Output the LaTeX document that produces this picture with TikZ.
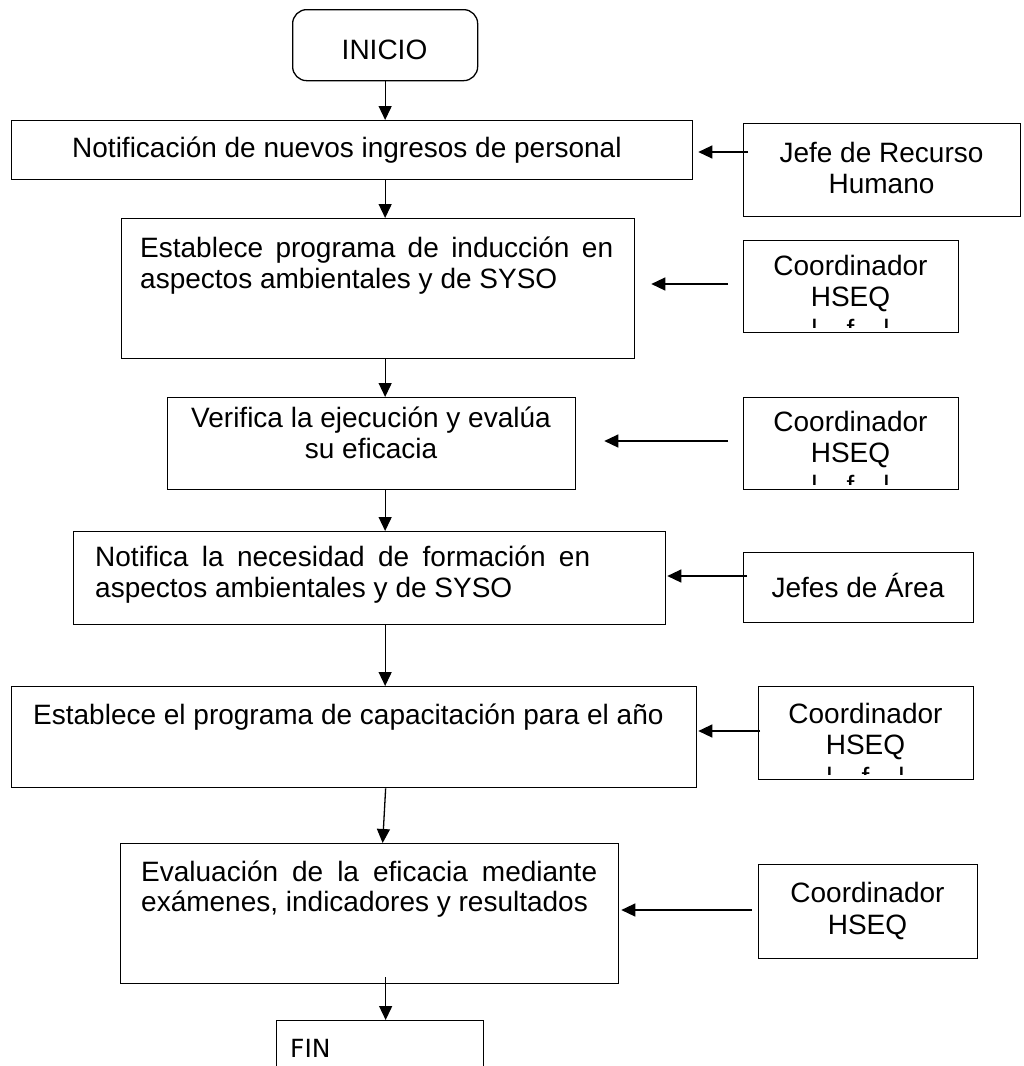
\documentclass[tikz,border=0pt]{standalone}
\usepackage{fontspec}
\setmainfont{Liberation Sans}
\newfontfamily\finfont{DejaVu Sans}
\usetikzlibrary{arrows.meta}

\begin{document}
\begin{tikzpicture}[x=1pt,y=-1pt,
  box/.style={draw, line width=1.3pt, inner sep=0pt, anchor=north west},
  txt/.style={inner sep=0pt, anchor=base west, font=\fontsize{28}{32}\selectfont},
  ctxt/.style={inner sep=0pt, anchor=base, font=\fontsize{28}{32}\selectfont},
  arr/.style={line width=1.3pt, -{Triangle[length=14pt,width=13pt]}}]
\useasboundingbox (0,0) rectangle (1024,1066);
\clip (0,0) rectangle (1024,1066);

% ---- main column boxes
\node[box, rounded corners=14pt, minimum width=185pt, minimum height=71pt] (inicio) at (292,9) {};
\node[box, minimum width=681pt, minimum height=59pt]  (n1) at (11,120) {};
\node[box, minimum width=513pt, minimum height=140pt] (n2) at (121,218) {};
\node[box, minimum width=408pt, minimum height=92pt]  (n3) at (167,397) {};
\node[box, minimum width=592pt, minimum height=93pt]  (n4) at (73,531) {};
\node[box, minimum width=685pt, minimum height=101pt] (n5) at (11,686) {};
\node[box, minimum width=498pt, minimum height=140pt] (n6) at (120,843) {};
\node[box, minimum width=207pt, minimum height=80pt]  (fin) at (276,1020) {};

% ---- responsible boxes
\node[box, minimum width=277pt, minimum height=93pt] (jefe) at (743,123) {};
\node[box, minimum width=215pt, minimum height=92pt] (ca) at (743,240) {};
\node[box, minimum width=215pt, minimum height=92pt] (cb) at (743,397) {};
\node[box, minimum width=230pt, minimum height=70pt] (jefes) at (743,552) {};
\node[box, minimum width=215pt, minimum height=93pt] (cc) at (758,686) {};
\node[box, minimum width=219pt, minimum height=94pt] (cd) at (758,864) {};

% ---- texts of the main column
\node[ctxt] (tinicio) at (384.5,59) {INICIO};
\node[txt] (t1) at (72,157) {Notificación de nuevos ingresos de personal};
\node[txt] (t2a) at (140,257) {\makebox[473pt][s]{Establece programa de inducción en}};
\node[txt] (t2b) at (140,288) {aspectos ambientales y de SYSO};
\node[ctxt] (t3a) at (371,427) {Verifica la ejecución y evalúa};
\node[ctxt] (t3b) at (371,458) {su eficacia};
\node[txt] (t4a) at (95,566) {\makebox[495pt][s]{Notifica la necesidad de formación en}};
\node[txt] (t4b) at (95,597) {aspectos ambientales y de SYSO};
\node[txt] (t5) at (33,724) {Establece el programa de capacitación para el año};
\node[txt] (t6a) at (141,881) {\makebox[456pt][s]{Evaluación de la eficacia mediante}};
\node[txt] (t6b) at (141,911) {exámenes, indicadores y resultados};
\node[inner sep=0pt, anchor=base west, font=\finfont\fontsize{25}{29}\selectfont] (tfin) at (290,1057) {FIN};

% ---- texts of the responsible boxes
\node[ctxt] (tj1) at (881.5,162) {Jefe de Recurso};
\node[ctxt] (tj2) at (881.5,193) {Humano};
\foreach \b/\cx/\y in {ca/850.5/275, cb/850.5/431, cc/865.5/723}{
  \node[ctxt] (\b l1) at (\cx,\y) {Coordinador};
  \node[ctxt] (\b l2) at (\cx,\y+31) {HSEQ};
  \begin{scope}
    \clip (\b.north west) rectangle ([yshift=6pt]\b.south east);
    \node[ctxt] (\b m1) at (\cx-36,\y+64) {l};
    \node[ctxt] (\b m2) at (\cx,\y+64) {f};
    \node[ctxt] (\b m3) at (\cx+36,\y+64) {l};
  \end{scope}
}
\node[ctxt] (tjefes) at (858,597) {Jefes de Área};
\node[ctxt] (td1) at (867.5,902) {Coordinador};
\node[ctxt] (td2) at (867.5,934) {HSEQ};

% ---- vertical flow
\draw[arr] (inicio.south) -- (n1.north -| inicio.south);
\draw[arr] (n1.south -| inicio.south) -- (n2.north -| inicio.south);
\draw[arr] (n2.south -| inicio.south) -- (n3.north -| inicio.south);
\draw[arr] (n3.south -| inicio.south) -- (n4.north -| inicio.south);
\draw[arr] (n4.south -| inicio.south) -- (n5.north -| inicio.south);
\draw[arr] ([xshift=0.5pt]n5.south -| inicio.south) -- ([xshift=-2.5pt]n6.north -| inicio.south);
\draw[arr] ([yshift=7pt]n6.south -| fin.north) ++(5.5,0) -- ([xshift=5.5pt]fin.north);

% ---- responsible to activity
\draw[arr, shorten >=5pt] ([xshift=5pt]jefe.west |- 0,152) -- (n1.east |- 0,152);
\draw[arr, shorten <=15pt, shorten >=16pt] (ca.west |- 0,284) -- (n2.east |- 0,284);
\draw[arr, shorten <=15pt, shorten >=28pt] (cb.west |- 0,441) -- (n3.east |- 0,441);
\draw[arr, shorten >=1pt] ([xshift=4pt]jefes.west |- 0,576) -- (n4.east |- 0,576);
\draw[arr, shorten >=1pt] ([xshift=2pt]cc.west |- 0,731) -- (n5.east |- 0,731);
\draw[arr, shorten <=6pt, shorten >=2pt] (cd.west |- 0,910) -- (n6.east |- 0,910);
\end{tikzpicture}
\end{document}
